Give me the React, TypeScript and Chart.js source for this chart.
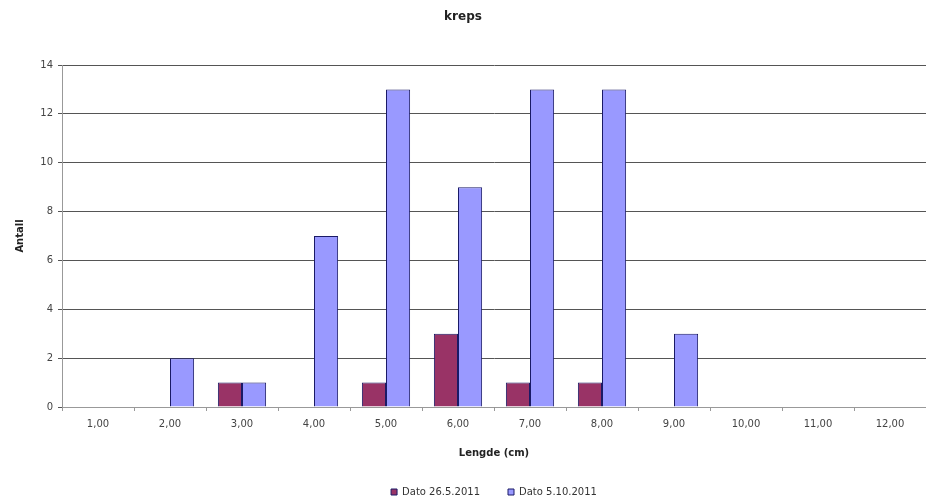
import React, { useEffect, useRef } from "react";
import { Chart, registerables } from "chart.js";

Chart.register(...registerables);

const categories = ["1,00", "2,00", "3,00", "4,00", "5,00", "6,00", "7,00", "8,00", "9,00", "10,00", "11,00", "12,00"];
const seriesMay = [0, 0, 1, 0, 1, 3, 1, 1, 0, 0, 0, 0];
const seriesOct = [0, 2, 1, 7, 13, 9, 13, 13, 3, 0, 0, 0];
const seriesNames = ["Dato 26.5.2011", "Dato 5.10.2011"];
const yMax = 14;
const yStep = 2;

const FONT = "'DejaVu Sans', 'Liberation Sans', Arial, sans-serif";

export default function App() {
  const ref = useRef<HTMLCanvasElement | null>(null);

  useEffect(() => {
    document.body.style.margin = "0";
    const canvas = ref.current;
    if (!canvas) return;
    const chart = new Chart(canvas, {
      type: "bar",
      data: {
        labels: categories,
        datasets: [
          {
            label: seriesNames[0],
            data: seriesMay,
            backgroundColor: "#993366",
            borderColor: "#1a1a66",
            borderWidth: 1,
            categoryPercentage: 0.67,
            barPercentage: 1,
          },
          {
            label: seriesNames[1],
            data: seriesOct,
            backgroundColor: "#9999FF",
            borderColor: "#1a1a66",
            borderWidth: 1,
            categoryPercentage: 0.67,
            barPercentage: 1,
          },
        ],
      },
      options: {
        responsive: false,
        animation: false,
        layout: { padding: { top: 0, left: 0, right: 0, bottom: -7 } },
        plugins: {
          title: {
            display: true,
            text: "kreps",
            color: "#222",
            font: { family: FONT, size: 12, weight: "bold" },
            padding: { top: 10, bottom: 40.6 },
          },
          legend: {
            position: "bottom",
            fullSize: false,
            labels: {
              boxWidth: 6,
              boxHeight: 6,
              padding: 28,
              color: "#333",
              font: { family: FONT, size: 10 },
            },
          },
          tooltip: { enabled: false },
        },
        scales: {
          x: {
            grid: {
              display: true,
              drawOnChartArea: false,
              drawTicks: true,
              tickLength: 4,
              color: "#999",
            },
            border: { color: "#999", width: 1 },
            ticks: {
              color: "#444",
              padding: 7,
              maxRotation: 0,
              font: { family: FONT, size: 10 },
            },
            title: {
              display: true,
              text: "Lengde (cm)",
              color: "#222",
              font: { family: FONT, size: 10, weight: "bold" },
              padding: { top: 0, bottom: 0 },
            },
            afterFit: (scale: any) => {
              scale.height = 52;
            },
          },
          y: {
            min: 0,
            max: yMax,
            ticks: {
              stepSize: yStep,
              color: "#444",
              padding: 5,
              font: { family: FONT, size: 10 },
            },
            grid: {
              color: "#555",
              lineWidth: 1,
              tickLength: 4,
            },
            border: { color: "#999", width: 1 },
            title: {
              display: true,
              text: "Antall",
              color: "#222",
              font: { family: FONT, size: 10, weight: "bold" },
              padding: { top: 14, bottom: 0 },
            },
            afterFit: (scale: any) => {
              scale.width = 62;
            },
          },
        },
      },
    } as any);
    return () => chart.destroy();
  }, []);

  return (
    <div style={{ width: 926, height: 500, background: "#fff" }}>
      <canvas ref={ref} width={926} height={500} style={{ display: "block" }} />
    </div>
  );
}
